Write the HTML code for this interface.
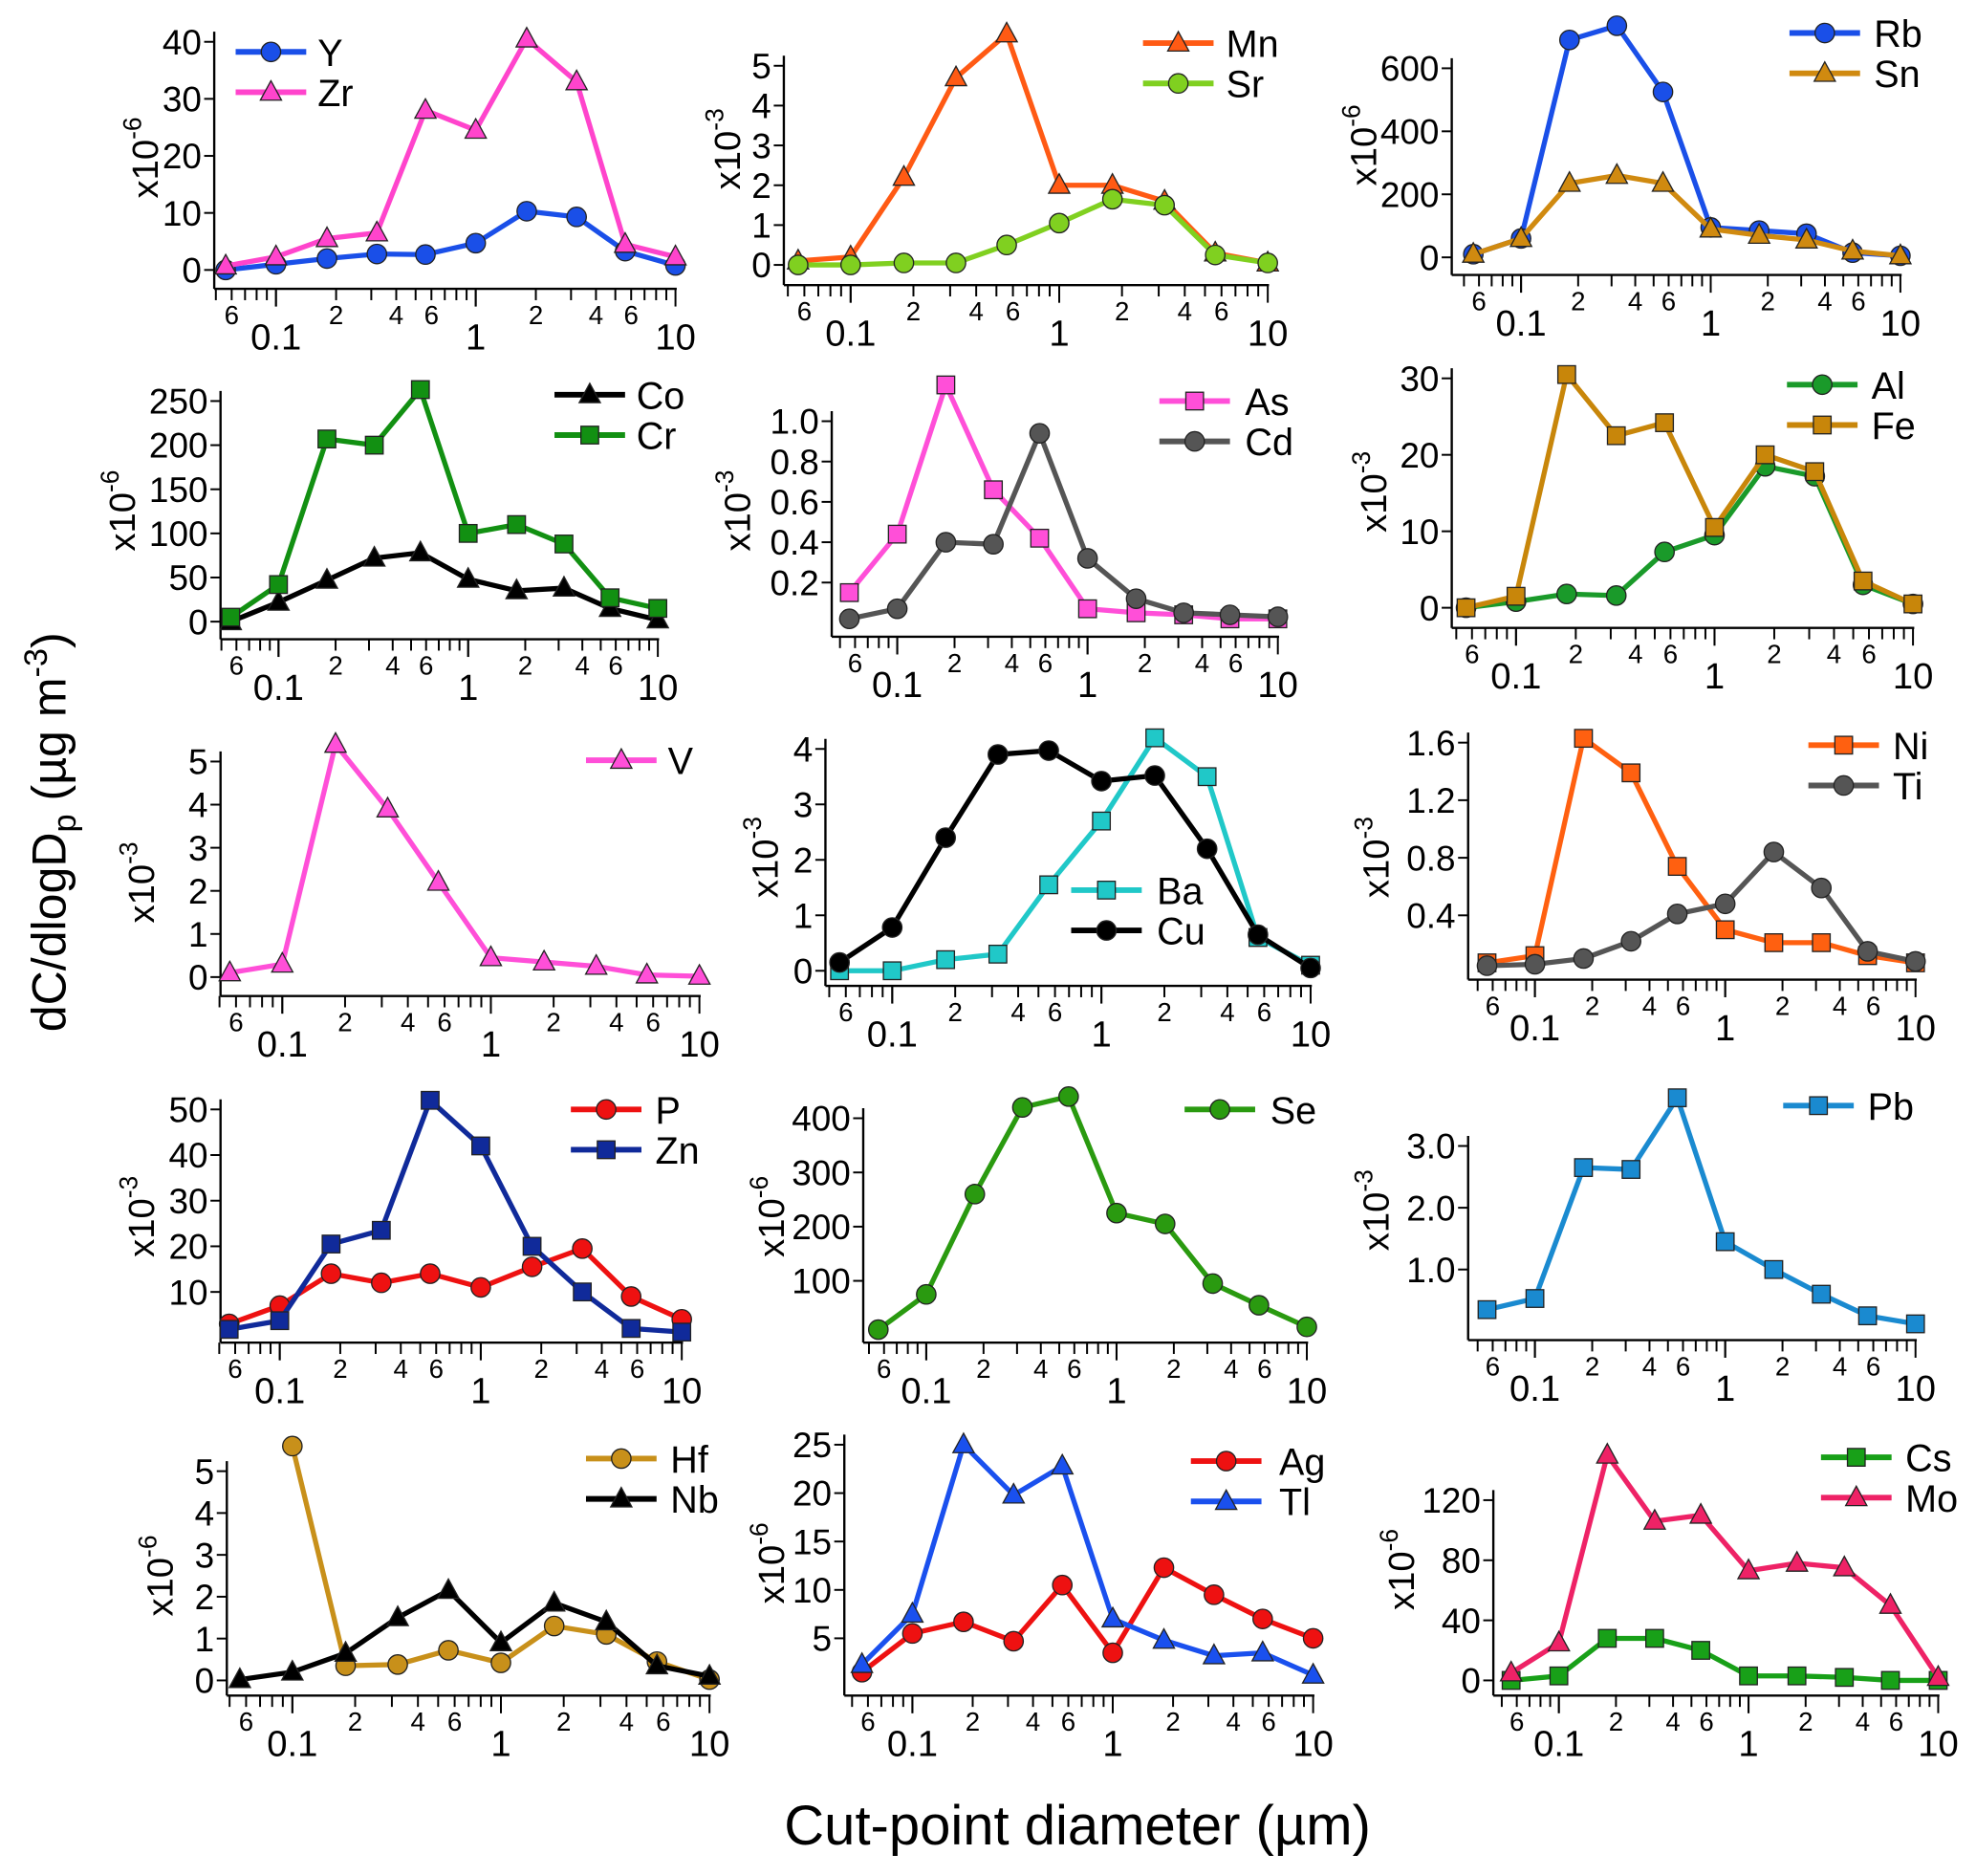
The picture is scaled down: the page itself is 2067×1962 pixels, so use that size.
<!DOCTYPE html>
<html><head><meta charset="utf-8"><style>
html,body{margin:0;padding:0;background:#fff}
svg{display:block;font-family:"Liberation Sans Narrow","Liberation Sans",sans-serif}
</style></head><body>
<svg id="fig" width="2067" height="1962" viewBox="0 0 1568 1488" xmlns="http://www.w3.org/2000/svg">
<text transform="translate(52,660) rotate(-90)" text-anchor="middle" font-size="38" font-family="Liberation Sans, sans-serif">dC/dlogD<tspan font-size="26" dy="8">p</tspan><tspan dy="-8"> (µg m</tspan><tspan font-size="26" dy="-15">-3</tspan><tspan dy="15">)</tspan></text>
<text x="855" y="1463" text-anchor="middle" font-size="44">Cut-point diameter (µm)</text>
</svg>
<script>
const cutPoints=[0.056,0.1,0.18,0.32,0.56,1.0,1.8,3.2,5.6,10];
const Y_vals=[0,1,2,2.8,2.7,4.7,10.3,9.3,3.3,0.8];
const Zr_vals=[0.7,2.3,5.5,6.5,28,24.5,40.5,33,4.5,2.3];
const Mn_vals=[0.1,0.2,2.2,4.7,5.8,2.0,2.0,1.6,0.3,0.05];
const Sr_vals=[0,0,0.05,0.05,0.5,1.05,1.65,1.5,0.25,0.05];
const Rb_vals=[10,60,690,735,525,95,85,75,15,5];
const Sn_vals=[10,60,235,260,235,90,70,55,20,5];
const Co_vals=[0,22,47,72,78,48,35,38,15,2];
const Cr_vals=[5,42,207,200,263,100,110,88,27,15];
const As_vals=[0.15,0.44,1.18,0.66,0.42,0.07,0.05,0.04,0.02,0.02];
const Cd_vals=[0.02,0.07,0.4,0.39,0.94,0.32,0.12,0.05,0.04,0.03];
const Al_vals=[0,0.8,1.8,1.6,7.3,9.5,18.5,17.2,3,0.5];
const Fe_vals=[0,1.5,30.5,22.5,24.2,10.5,20,17.8,3.5,0.5];
const V_vals=[0.1,0.3,5.4,3.9,2.2,0.45,0.35,0.25,0.05,0.02];
const Ba_vals=[0,0,0.2,0.3,1.55,2.7,4.2,3.5,0.6,0.1];
const Cu_vals=[0.15,0.78,2.4,3.9,3.97,3.42,3.52,2.2,0.65,0.05];
const Ni_vals=[0.07,0.12,1.63,1.39,0.74,0.3,0.21,0.21,0.12,0.07];
const Ti_vals=[0.05,0.06,0.1,0.22,0.41,0.48,0.84,0.59,0.15,0.08];
const P_vals=[3,7,14,12,14,11,15.5,19.5,9,4];
const Zn_vals=[1.8,3.7,20.5,23.5,52,42,20,10,2,1.2];
const Se_vals=[10,75,260,420,440,225,205,95,55,15];
const Pb_vals=[0.35,0.53,2.65,2.62,3.78,1.45,1.0,0.6,0.25,0.12];
const Hf_vals=[null,5.6,0.35,0.38,0.72,0.42,1.3,1.1,0.45,0.02];
const Nb_vals=[0.02,0.2,0.65,1.5,2.15,0.9,1.85,1.4,0.35,0.1];
const Ag_vals=[1.5,5.5,6.7,4.7,10.5,3.5,12.3,9.5,7,5];
const Tl_vals=[2.3,7.5,25,19.8,22.8,7,4.8,3.2,3.5,1.2];
const Cs_vals=[0,3,28,28,20,3,3,2,0,0];
const Mo_vals=[5,25,150,106,110,73,78,75,50,2];

const ticks1=[0,10,20,30,40], ticks2=[0,1,2,3,4,5], ticks3=[0,200,400,600];
const ticks4=[0,50,100,150,200,250], ticks5=[0.2,0.4,0.6,0.8,1.0], ticks6=[0,10,20,30];
const ticks7=[0,1,2,3,4,5], ticks8=[0,1,2,3,4], ticks9=[0.4,0.8,1.2,1.6];
const ticks10=[10,20,30,40,50], ticks11=[100,200,300,400], ticks12=[1.0,2.0,3.0];
const ticks13=[0,1,2,3,4,5], ticks14=[5,10,15,20,25], ticks15=[0,40,80,120];

const NS="http://www.w3.org/2000/svg";
const svg=document.getElementById('fig');
function mk(tag,attrs,parent){const e=document.createElementNS(NS,tag);for(const k in attrs)e.setAttribute(k,attrs[k]);(parent||svg).appendChild(e);return e;}

const panels=[
 {id:'y-zr',ax:170,x01:219,x10:536,by:229,v0:0,p0:214,v1:40,p1:33,ticks:ticks1,dec:0,exp:'-6',ex:115,ey:125,
  series:[{n:'Y',d:Y_vals,c:'#1a4fe8',m:'circle'},{n:'Zr',d:Zr_vals,c:'#ff44cc',m:'tri'}],leg:{x:187,y:41,tx:252}},
 {id:'mn-sr',ax:622,x01:675,x10:1006,by:226,v0:0,p0:210,v1:5,p1:52,ticks:ticks2,dec:0,exp:'-3',ex:577,ey:118,
  series:[{n:'Mn',d:Mn_vals,c:'#ff5a14',m:'tri'},{n:'Sr',d:Sr_vals,c:'#80d020',m:'circle'}],leg:{x:907,y:34,tx:973}},
 {id:'rb-sn',ax:1152,x01:1207,x10:1508,by:218,v0:0,p0:204,v1:600,p1:54,ticks:ticks3,dec:0,exp:'-6',ex:1082,ey:115,
  series:[{n:'Rb',d:Rb_vals,c:'#1a4fe8',m:'circle'},{n:'Sn',d:Sn_vals,c:'#d08a10',m:'tri'}],leg:{x:1420,y:26,tx:1487}},
 {id:'co-cr',ax:175,x01:221,x10:522,by:507,v0:0,p0:493,v1:250,p1:318,ticks:ticks4,dec:0,exp:'-6',ex:97,ey:405,
  series:[{n:'Co',d:Co_vals,c:'#000000',m:'tri'},{n:'Cr',d:Cr_vals,c:'#129012',m:'square'}],leg:{x:440,y:313,tx:505}},
 {id:'as-cd',ax:660,x01:712,x10:1014,by:505,v0:0,p0:494,v1:1.0,p1:334,ticks:ticks5,dec:1,exp:'-3',ex:585,ey:405,
  series:[{n:'As',d:As_vals,c:'#ff4fd8',m:'square'},{n:'Cd',d:Cd_vals,c:'#555555',m:'circle'}],leg:{x:920,y:318,tx:988}},
 {id:'al-fe',ax:1152,x01:1203,x10:1518,by:498,v0:0,p0:482,v1:30,p1:300,ticks:ticks6,dec:0,exp:'-3',ex:1090,ey:390,
  series:[{n:'Al',d:Al_vals,c:'#1a9a2a',m:'circle'},{n:'Fe',d:Fe_vals,c:'#c8860a',m:'square'}],leg:{x:1418,y:305,tx:1485}},
 {id:'v',ax:175,x01:224,x10:555,by:790,v0:0,p0:775,v1:5,p1:604,ticks:ticks7,dec:0,exp:'-3',ex:112,ey:700,
  series:[{n:'V',d:V_vals,c:'#ff4fd8',m:'tri'}],leg:{x:465,y:603,tx:530}},
 {id:'ba-cu',ax:655,x01:708,x10:1040,by:782,v0:0,p0:770,v1:4,p1:594,ticks:ticks8,dec:0,exp:'-3',ex:607,ey:680,
  series:[{n:'Ba',d:Ba_vals,c:'#20c8c8',m:'square'},{n:'Cu',d:Cu_vals,c:'#000000',m:'circle'}],leg:{x:850,y:706,tx:918}},
 {id:'ni-ti',ax:1165,x01:1218,x10:1520,by:777,v0:0,p0:771.7,v1:1.6,p1:589,ticks:ticks9,dec:1,exp:'-3',ex:1092,ey:680,
  series:[{n:'Ni',d:Ni_vals,c:'#ff6010',m:'square'},{n:'Ti',d:Ti_vals,c:'#555555',m:'circle'}],leg:{x:1435,y:591,tx:1502}},
 {id:'p-zn',ax:175,x01:222,x10:541,by:1065,v0:0,p0:1061,v1:50,p1:880,ticks:ticks10,dec:0,exp:'-3',ex:112,ey:965,
  series:[{n:'P',d:P_vals,c:'#ee1111',m:'circle'},{n:'Zn',d:Zn_vals,c:'#102a9a',m:'square'}],leg:{x:453,y:880,tx:520}},
 {id:'se',ax:685,x01:735,x10:1037,by:1065,v0:0,p0:1059,v1:400,p1:887,ticks:ticks11,dec:0,exp:'-6',ex:612,ey:965,
  series:[{n:'Se',d:Se_vals,c:'#2a9a10',m:'circle'}],leg:{x:940,y:880,tx:1008}},
 {id:'pb',ax:1165,x01:1218,x10:1520,by:1063,v0:0,p0:1056,v1:3,p1:909,ticks:ticks12,dec:1,exp:'-3',ex:1092,ey:960,
  series:[{n:'Pb',d:Pb_vals,c:'#1a8ad0',m:'square'}],leg:{x:1415,y:877,tx:1482}},
 {id:'hf-nb',ax:180,x01:232,x10:563,by:1345,v0:0,p0:1333,v1:5,p1:1167,ticks:ticks13,dec:0,exp:'-6',ex:127,ey:1250,
  series:[{n:'Hf',d:Hf_vals,c:'#c8901a',m:'circle'},{n:'Nb',d:Nb_vals,c:'#000000',m:'tri'}],leg:{x:465,y:1157,tx:532}},
 {id:'ag-tl',ax:670,x01:724,x10:1042,by:1345,v0:0,p0:1338,v1:25,p1:1146,ticks:ticks14,dec:0,exp:'-6',ex:612,ey:1240,
  series:[{n:'Ag',d:Ag_vals,c:'#ee1111',m:'circle'},{n:'Tl',d:Tl_vals,c:'#1a50ee',m:'tri'}],leg:{x:945,y:1159,tx:1015}},
 {id:'cs-mo',ax:1185,x01:1237,x10:1538,by:1345,v0:0,p0:1333,v1:120,p1:1190,ticks:ticks15,dec:0,exp:'-6',ex:1112,ey:1245,
  series:[{n:'Cs',d:Cs_vals,c:'#18a018',m:'square'},{n:'Mo',d:Mo_vals,c:'#ee2266',m:'tri'}],leg:{x:1445,y:1156,tx:1512}}
];

function marker(g,type,x,y,c,s){
  let e;
  if(type==='circle') e=mk('circle',{cx:x,cy:y,r:s*0.55,fill:c,stroke:'#222','stroke-width':1},g);
  else if(type==='square') e=mk('rect',{x:x-s*0.5,y:y-s*0.5,width:s,height:s,fill:c,stroke:'#222','stroke-width':1},g);
  else e=mk('polygon',{points:`${x},${y-s*0.65} ${x-s*0.6},${y+s*0.45} ${x+s*0.6},${y+s*0.45}`,fill:c,stroke:'#222','stroke-width':1},g);
  return e;
}

panels.forEach(p=>{
  const dec=(p.x10-p.x01)/2;
  const xs=v=>p.x01+(Math.log10(v)+1)*dec;
  const ys=v=>p.p0+(v-p.v0)*(p.p1-p.p0)/(p.v1-p.v0);
  const g=mk('g',{});
  
  
  const topTick=ys(p.ticks[p.ticks.length-1]);
  const yax=mk('line',{x1:p.ax,y1:topTick-8,x2:p.ax,y2:p.by,stroke:'#000','stroke-width':1.8},g);
  
  
  const xax=mk('line',{x1:p.ax,y1:p.by,x2:xs(10)+1,y2:p.by,stroke:'#000','stroke-width':1.8},g);
  
  
  [0.01,0.1,1].forEach(d=>{
    for(let k=1;k<=10;k++){
      const v=d*k; if(v<0.05||v>10.001) continue;
      const x=xs(v); const major=(k===1||k===10);
      mk('line',{x1:x,y1:p.by,x2:x,y2:p.by+(major?14:9),stroke:'#000','stroke-width':1.5},g);
      if(!major && (k===2||k===4||k===6)){
        const t=mk('text',{x:x,y:p.by+28,'text-anchor':'middle','font-size':21},g);
        t.textContent=String(k);
        
        
      }
    }
  });
  [0.1,1,10].forEach(v=>{
    const t=mk('text',{x:xs(v),y:p.by+48,'text-anchor':'middle','font-size':29},g);
    t.textContent=String(v);
    
    
  });
  p.ticks.forEach(v=>{
    const y=ys(v);
    mk('line',{x1:p.ax-8,y1:y,x2:p.ax,y2:y,stroke:'#000','stroke-width':1.5},g);
    const t=mk('text',{x:p.ax-10,y:y+10,'text-anchor':'end','font-size':28},g);
    t.textContent=v.toFixed(p.dec);
    
    
  });
  const et=mk('text',{transform:`translate(${p.ex+10},${p.ey}) rotate(-90)`,'text-anchor':'middle','font-size':29},g);
  et.innerHTML='x10<tspan font-size="20" dy="-13">'+p.exp+'</tspan>';
  
  
  p.series.forEach((s,si)=>{
    const sg=mk('g',{},g);
    
    
    const pts=[];
    s.d.forEach((v,i)=>{ if(v!==null) pts.push([xs(cutPoints[i]),ys(v)]); });
    const pl=mk('polyline',{points:pts.map(q=>q.join(',')).join(' '),fill:'none',stroke:s.c,'stroke-width':4,'stroke-linejoin':'round'},sg);
    
    
    pts.forEach(q=>{
      const m=marker(sg,s.m,q[0],q[1],s.c,14);
      
      
    });
    const ly=p.leg.y+si*32;
    const lg=mk('g',{},g);
    
    
    mk('line',{x1:p.leg.x,y1:ly,x2:p.leg.x+56,y2:ly,stroke:s.c,'stroke-width':4.5},lg);
    marker(lg,s.m,p.leg.x+28,ly,s.c,14);
    const lt=mk('text',{x:p.leg.tx,y:ly+11,'font-size':30},lg);
    lt.textContent=s.n;
  });
});
</script>
</body></html>
